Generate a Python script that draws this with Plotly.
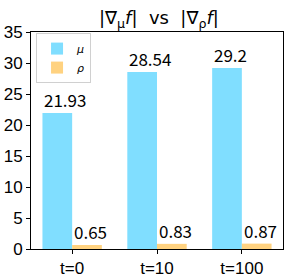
import plotly.graph_objects as go

categories = ["t=0", "t=10", "t=100"]
mu_values = [21.93, 28.54, 29.2]
rho_values = [0.65, 0.83, 0.87]
series_names = ["μ", "ρ"]
y_ticks = [0, 5, 10, 15, 20, 25, 30, 35]

W = 0.35
pos = list(range(len(categories)))

fig = go.Figure()
fig.add_trace(go.Bar(
    x=[p - W / 2 for p in pos], y=mu_values, width=W,
    name="<i>%s</i>" % series_names[0], marker=dict(color="#80DEFF", line=dict(width=0)),
))
fig.add_trace(go.Bar(
    x=[p + W / 2 for p in pos], y=rho_values, width=W,
    name="<i>%s</i>" % series_names[1], marker=dict(color="#FFD280", line=dict(width=0)),
))

annos = []
for p, v in zip(pos, mu_values):
    annos.append(dict(x=p - W, y=v, text=str(v), xref="x", yref="y",
                      xanchor="left", yanchor="bottom", showarrow=False,
                      xshift=0, yshift=-1,
                      font=dict(family="Noto Sans CJK SC", size=17, color="black")))
for p, v in zip(pos, rho_values):
    annos.append(dict(x=p, y=v, text=str(v), xref="x", yref="y",
                      xanchor="left", yanchor="bottom", showarrow=False,
                      xshift=0, yshift=-1,
                      font=dict(family="Noto Sans CJK SC", size=17, color="black")))

fig.update_layout(
    template="none",
    width=290, height=278,
    margin=dict(l=31, r=7, t=32, b=29, autoexpand=False),
    paper_bgcolor="white", plot_bgcolor="white",
    barmode="overlay",
    showlegend=True,
    title=dict(text="|∇<sub>μ</sub><i>f</i>|  vs  |∇<sub>ρ</sub><i>f</i>|",
               x=0.548, xanchor="center", y=0.935, yanchor="middle",
               font=dict(family="DejaVu Sans", size=18, color="black")),
    legend=dict(x=0.02, y=0.995, xanchor="left", yanchor="top",
                bordercolor="#d0d0d0", borderwidth=1, bgcolor="white",
                font=dict(family="DejaVu Sans", size=11, color="black"),
                itemwidth=30, tracegroupgap=0),
    annotations=annos,
    xaxis=dict(range=[-0.485, 2.485], tickvals=pos, ticktext=categories,
               automargin=False,
               showline=True, linecolor="black", linewidth=1, mirror=True,
               ticks="outside", ticklen=4, tickcolor="black", showgrid=False,
               zeroline=False,
               tickfont=dict(family="Liberation Sans", size=17, color="black")),
    yaxis=dict(range=[0, 35], tickvals=y_ticks, automargin=False,
               showline=True, linecolor="black", linewidth=1, mirror=True,
               ticks="outside", ticklen=4, tickcolor="black", showgrid=False,
               zeroline=False,
               tickfont=dict(family="Liberation Sans", size=17, color="black")),
)

fig.write_html("out.html", config={"displayModeBar": False},
               post_script="document.body.style.margin='0';document.body.style.overflow='hidden';")
